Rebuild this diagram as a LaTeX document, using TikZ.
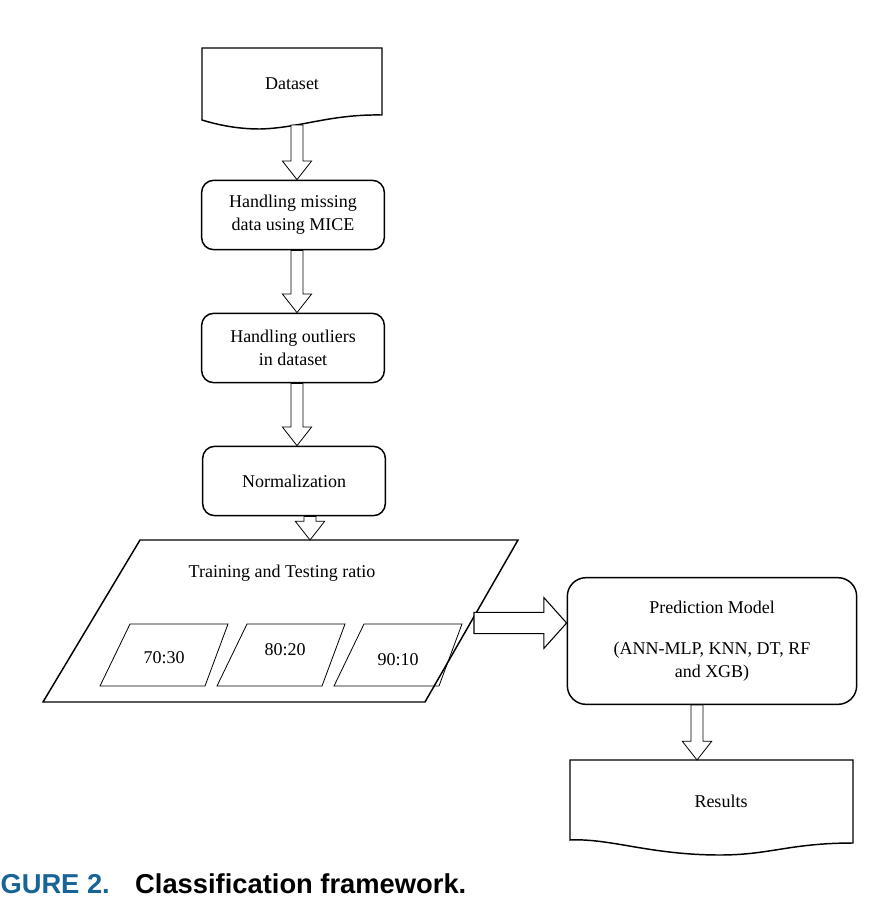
\documentclass[tikz,border=0pt]{standalone}
\usepackage{fontspec}
\setmainfont{Liberation Serif}
\setsansfont{Liberation Sans}
\usetikzlibrary{calc}
\tikzset{every picture/.style={line width=0.75pt}}
\definecolor{capblue}{RGB}{25,100,150}
% hollow block arrows
\newcommand\varrow[2]{\path let \p1=(#1), \p2=(#2) in [draw,line width=0.6pt,fill=white] (\x1-4.5pt,\y1) -- (\x1-4.5pt,\y2-14pt) -- (\x1-11pt,\y2-14pt) -- (\x1,\y2) -- (\x1+11pt,\y2-14pt) -- (\x1+4.5pt,\y2-14pt) -- (\x1+4.5pt,\y1) -- cycle;}
\newcommand\harrow[2]{\path let \p1=(#1), \p2=(#2) in [draw,line width=0.8pt,fill=white] (\x1,\y1+8pt) -- (\x2-17pt,\y1+8pt) -- (\x2-17pt,\y1+19pt) -- (\x2,\y1) -- (\x2-17pt,\y1-19pt) -- (\x2-17pt,\y1-8pt) -- (\x1,\y1-8pt) -- cycle;}

\begin{document}
\begin{tikzpicture}[x=0.75pt,y=0.75pt,yscale=-1,xscale=1,
    stepbox/.style={draw,rounded corners=9pt,line width=1.1pt,minimum width=137pt,minimum height=52pt,align=center,font=\fontsize{13.5}{17}\selectfont},
    txt/.style={font=\fontsize{13.5}{17}\selectfont},
    ratiobox/.style={draw,line width=0.6pt}]
    \useasboundingbox (0,0) rectangle (895,908);

    %Dataset
    \draw[line width=1.1pt] (202,48) -- (382,48) -- (382,115) .. controls (330,114) and (300,128) .. (260,129) .. controls (235,129) and (215,124) .. (202,120) -- cycle;
    \node[txt] (data) at (292,84) {Dataset};
    \coordinate (dataout) at (297,125);

    %Steps
    \node[stepbox] (mice) at (293,215) {Handling missing\\data using MICE};
    \node[stepbox] (outl) at (293,348) {Handling outliers\\in dataset};
    \node[stepbox] (norm) at (294,481) {Normalization};

    %Training and testing
    \draw[line width=1.1pt] (140,540) -- (518,540) -- (425,702) -- (43,702) -- cycle;
    \node[txt] (split) at (282,573) {Training and Testing ratio};
    \coordinate (splittop) at (310,540);
    \coordinate (splitright) at (474,623);
    \draw[ratiobox,shift={(164,655)}] (-64,31) -- (41,31) -- (64,-31) -- (-34,-31) -- cycle;
    \node[txt] (r1) at (164,658) {70:30};
    \draw[ratiobox,shift={(281,655)}] (-64,31) -- (41,31) -- (64,-31) -- (-34,-31) -- cycle;
    \node[txt] (r2) at (285,650) {80:20};
    \draw[ratiobox,shift={(398,655)}] (-64,31) -- (41,31) -- (64,-31) -- (-34,-31) -- cycle;
    \node[txt] (r3) at (398,660) {90:10};

    %Prediction
    \node[stepbox,minimum width=217pt,minimum height=95pt,rounded corners=14pt] (pred) at (712,641) {Prediction Model\\[14pt](ANN-MLP, KNN, DT, RF\\and XGB)};

    %Results
    \draw[line width=1.1pt] (570,760) -- (853,760) -- (853,843) .. controls (790,843) and (770,855) .. (720,855) .. controls (650,855) and (610,838) .. (570,840) -- cycle;
    \node[txt] (res) at (721,801) {Results};
    \coordinate (restop) at (697,760);

    %Hollow arrows
    \varrow{dataout}{mice.north -| dataout}
    \varrow{mice.south -| dataout}{outl.north -| dataout}
    \varrow{outl.south -| dataout}{norm.north -| dataout}
    \varrow{norm.south -| splittop}{splittop}
    \harrow{splitright}{pred.west |- splitright}
    \varrow{pred.south -| restop}{restop}

    %Caption
    \node[anchor=west,inner sep=0pt,font=\sffamily\bfseries\fontsize{20.5}{22}\selectfont] (cap) at (0,884) {\textcolor{capblue}{GURE 2.}\hspace{19pt}Classification framework.};
\end{tikzpicture}
\end{document}
